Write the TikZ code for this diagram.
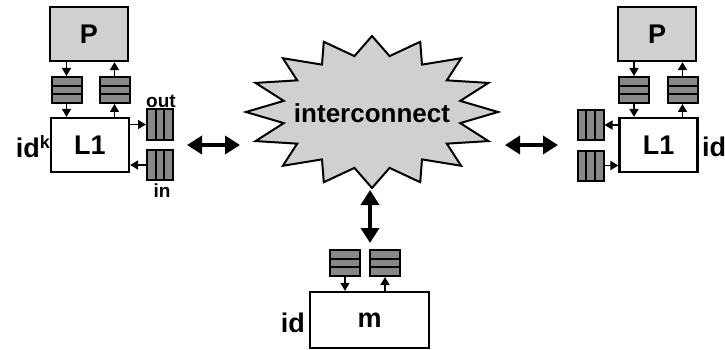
\documentclass[tikz,border=0pt]{standalone}
\usepackage{fontspec}
\setmainfont{Liberation Sans}
\usetikzlibrary{arrows.meta,calc}
\definecolor{pgray}{RGB}{208,208,208}
\definecolor{qgray}{RGB}{136,136,136}
\begin{document}
\begin{tikzpicture}[x=1pt,y=-1pt,
  lbl/.style={font=\fontsize{27}{27}\selectfont\bfseries, inner sep=0pt},
  idl/.style={font=\fontsize{27}{27}\selectfont\bfseries, inner sep=0pt},
  box/.style={draw, line width=2.2pt, rectangle, inner sep=0pt, lbl},
  pbox/.style={box, fill=pgray, minimum width=78pt, minimum height=54pt},
  lbox/.style={box, fill=white, minimum width=78pt, minimum height=54pt},
  mbox/.style={box, fill=white, minimum width=119pt, minimum height=56pt},
  hq/.style={draw, line width=2pt, fill=qgray, minimum width=30pt, minimum height=26pt, inner sep=0pt,
    path picture={\draw[line width=2pt]
      ($(path picture bounding box.north west)!1/3!(path picture bounding box.south west)$) --
      ($(path picture bounding box.north east)!1/3!(path picture bounding box.south east)$)
      ($(path picture bounding box.north west)!2/3!(path picture bounding box.south west)$) --
      ($(path picture bounding box.north east)!2/3!(path picture bounding box.south east)$);}},
  vq/.style={draw, line width=2pt, fill=qgray, minimum width=26pt, minimum height=30pt, inner sep=0pt,
    path picture={\draw[line width=2pt]
      ($(path picture bounding box.north west)!1/3!(path picture bounding box.north east)$) --
      ($(path picture bounding box.south west)!1/3!(path picture bounding box.south east)$)
      ($(path picture bounding box.north west)!2/3!(path picture bounding box.north east)$) --
      ($(path picture bounding box.south west)!2/3!(path picture bounding box.south east)$);}},
  sarr/.style={line width=1.5pt, -{Triangle[length=8pt,width=9pt]}},
  darr/.style={line width=3.5pt, {Triangle[length=15pt,width=18pt]}-{Triangle[length=15pt,width=18pt]}},
  small/.style={font=\fontsize{19}{19}\selectfont\bfseries, inner sep=0pt}
]
\useasboundingbox (0,0) rectangle (725,350);

% ---------- interconnect ----------
\draw[fill=pgray, line width=2pt] (498,112)
  \foreach \i [evaluate=\i as \ra using {mod(\i,2)==0?126:90},
               evaluate=\i as \rb using {mod(\i,2)==0?76:57}] in {1,...,31}
  { -- ({372+\ra*cos(\i*11.25)},{112+\rb*sin(\i*11.25)}) } -- cycle;
\node[font=\fontsize{26}{26}\selectfont\bfseries, inner sep=0pt] (ic) at (372,113) {interconnect};

% ---------- left node ----------
\node[pbox] (P1) at (89,34) {P};
\node[lbox] (L1a) at (90,145) {L1};
\node[hq] (q1) at (66.5,90) {};
\node[hq] (q2) at (114.5,90) {};
\node[vq] (oq1) at (160,124.5) {};
\node[vq] (iq1) at (160,165) {};
\node[idl, anchor=east] (idk) at (50,147) {id\raisebox{9pt}{\fontsize{18}{18}\selectfont k}};
\node[small] (out1) at (161,101) {out};
\node[small] (in1) at (162,191) {in};
\draw[sarr] (q1 |- P1.south) -- (q1.north);
\draw[sarr] (q1.south) -- (q1 |- L1a.north);
\draw[sarr] (q2 |- L1a.north) -- (q2.south);
\draw[sarr] (q2.north) -- (q2 |- P1.south);
\draw[sarr] (L1a.east |- oq1) -- (oq1.west);
\draw[sarr] (iq1.west) -- (L1a.east |- iq1);

% ---------- right node ----------
\node[pbox] (P2) at (657,34) {P};
\node[lbox] (L1b) at (658.5,145) {L1};
\node[hq] (q3) at (634,90) {};
\node[hq] (q4) at (682.5,90) {};
\node[vq] (oq2) at (590.5,125) {};
\node[vq] (iq2) at (590.5,165.5) {};
\node[idl, anchor=west] (idr) at (702,147) {id};
\draw[sarr] (q3 |- P2.south) -- (q3.north);
\draw[sarr] (q3.south) -- (q3 |- L1b.north);
\draw[sarr] (q4 |- L1b.north) -- (q4.south);
\draw[sarr] (q4.north) -- (q4 |- P2.south);
\draw[sarr] (L1b.west |- oq2) -- (oq2.east);
\draw[sarr] (iq2.east) -- (L1b.west |- iq2);

% ---------- memory ----------
\node[mbox] (m) at (369.5,320) {m};
\node[hq] (q5) at (345,263) {};
\node[hq] (q6) at (385,263) {};
\node[idl, anchor=east] (idm) at (305,323) {id};
\draw[sarr] (q5.south) -- (q5 |- m.north);
\draw[sarr] (q6 |- m.north) -- (q6.south);

% ---------- links ----------
\coordinate (la1) at (187,145); \coordinate (la2) at (240,145);
\coordinate (ra1) at (505,145); \coordinate (ra2) at (558,145);
\coordinate (va1) at (370,190); \coordinate (va2) at (370,243);
\draw[darr] (la1) -- (la2);
\draw[darr] (ra1) -- (ra2);
\draw[darr] (va1) -- (va2);
\end{tikzpicture}
\end{document}
